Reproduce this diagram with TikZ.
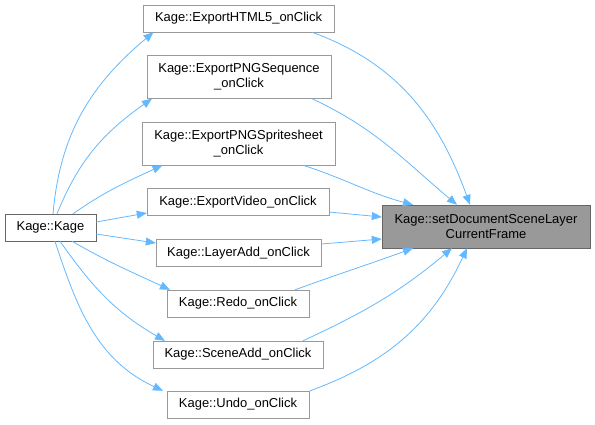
\documentclass[tikz,border=0pt]{standalone}
\usepackage{fontspec}
\setmainfont{Liberation Sans}
\usetikzlibrary{arrows.meta}
\definecolor{edgeblue}{HTML}{63B8FF}
\definecolor{boxgray}{HTML}{999999}
\definecolor{boxdark}{HTML}{666666}
\begin{document}
\begin{tikzpicture}[x=1bp, y=-1bp, font=\fontsize{13}{15.5}\selectfont,
    fn/.style={draw=boxgray, fill=white, inner sep=0pt, align=center, minimum height=27bp},
    fntwo/.style={fn, minimum height=43bp},
    call/.style={draw=edgeblue, line width=0.8bp, -{Triangle[length=10bp, width=8bp]}}]
    \useasboundingbox (0,0) rectangle (595,424);

    % 1. Hàm gọi gốc và hàm đích
    \node[fn, draw=boxdark, minimum width=91bp] (kage) at (50.5,227.5) {Kage::Kage};
    \node[fntwo, draw=boxdark, fill=boxgray, minimum width=208bp] (target) at (486,226.5)
        {Kage::setDocumentSceneLayer\\CurrentFrame};

    % 2. Các hàm trung gian
    \node[fn, minimum width=191bp] (html) at (238.5,18.5) {Kage::ExportHTML5\_onClick};
    \node[fntwo, minimum width=184bp] (pngseq) at (239,77) {Kage::ExportPNGSequence\\\_onClick};
    \node[fntwo, minimum width=193bp] (pngsprite) at (238.5,143.5) {Kage::ExportPNGSpritesheet\\\_onClick};
    \node[fn, minimum width=182bp] (video) at (238,202) {Kage::ExportVideo\_onClick};
    \node[fn, minimum width=165bp] (layer) at (238.5,253) {Kage::LayerAdd\_onClick};
    \node[fn, minimum width=142bp] (redo) at (238,303.5) {Kage::Redo\_onClick};
    \node[fn, minimum width=170bp] (scene) at (238,354.5) {Kage::SceneAdd\_onClick};
    \node[fn, minimum width=142bp] (undo) at (238,404.5) {Kage::Undo\_onClick};

    % 3. Cạnh từ Kage::Kage
    \draw[call] ([xshift=2.5bp]kage.north) to[out=85, in=220] ([xshift=-85bp]html.south);
    \draw[call] ([xshift=6.5bp]kage.north) to[out=68, in=215] ([xshift=-87bp]pngseq.south);
    \draw[call] ([xshift=22.5bp]kage.north) to[out=35, in=205] ([xshift=-76bp]pngsprite.south);
    \draw[call] ([yshift=5.5bp]kage.east) -- ([yshift=-11bp]video.west);
    \draw[call] ([yshift=-6.5bp]kage.east) -- ([yshift=10bp]layer.west);
    \draw[call] ([xshift=21.5bp]kage.south) to[out=-30, in=155] ([xshift=-68bp]redo.north);
    \draw[call] ([xshift=9.5bp]kage.south) to[out=-55, in=150] ([xshift=-73bp]scene.north);
    \draw[call] ([xshift=4.5bp]kage.south) to[out=-72, in=155] ([xshift=-75bp]undo.north);

    % 4. Cạnh vào hàm đích
    \draw[call] ([xshift=73.5bp]html.south) to[out=-20, in=110] ([xshift=-16bp]target.north);
    \draw[call] ([xshift=73bp]pngseq.south) to[out=-25, in=140] ([xshift=-29bp]target.north);
    \draw[call] ([xshift=64.5bp]pngsprite.south) to[out=-18, in=165] ([xshift=-73bp]target.north);
    \draw[call] ([yshift=-10bp]video.east) -- ([yshift=9.5bp]target.west);
    \draw[call] ([yshift=9bp]layer.east) -- ([yshift=-12.5bp]target.west);
    \draw[call] ([xshift=57bp]redo.north) to[out=20, in=-160] ([xshift=-73bp]target.south);
    \draw[call] ([xshift=65bp]scene.north) to[out=25, in=-140] ([xshift=-34bp]target.south);
    \draw[call] ([xshift=72bp]undo.north) to[out=20, in=-115] ([xshift=-19bp]target.south);
\end{tikzpicture}
\end{document}
